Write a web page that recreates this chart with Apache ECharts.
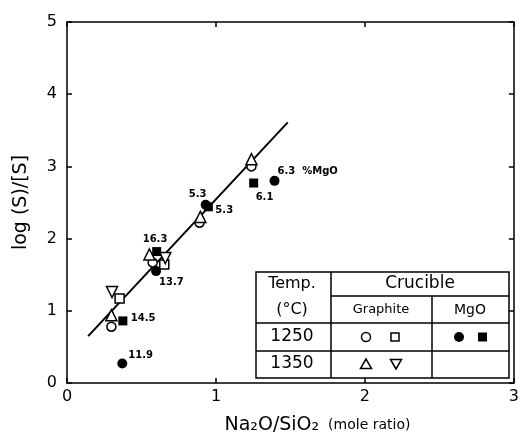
<!DOCTYPE html>
<html>
<head>
<meta charset="utf-8">
<script src="https://cdn.jsdelivr.net/npm/echarts@6/dist/echarts.min.js"></script>
<style>
  html, body { margin: 0; padding: 0; background: #fff; }
  #chart { width: 522px; height: 441px; }
</style>
</head>
<body>
<div id="chart"></div>
<script>
// graphite crucible, 1250 C
var graphiteCircle = [[0.298, 0.78], [0.575, 1.67], [0.89, 2.22], [1.238, 3.0]];
var graphiteSquare = [[0.353, 1.17], [0.653, 1.64]];
// graphite crucible, 1350 C
var graphiteTriangle = [[0.298, 0.94], [0.553, 1.78], [0.895, 2.30], [1.238, 3.10]];
var graphiteDownTri = [[0.302, 1.26], [0.66, 1.73]];
// MgO crucible, 1250 C (numbers = wt% MgO)
var mgoCircle = [[0.371, 0.27], [0.598, 1.55], [0.931, 2.47], [1.393, 2.80]];
var mgoCircleLabels = ['11.9', '13.7', '5.3', '6.3  %MgO'];
var mgoSquare = [[0.375, 0.86], [0.602, 1.82], [0.949, 2.44], [1.253, 2.77]];
var mgoSquareLabels = ['14.5', '16.3', '5.3', '6.1'];
// fitted line
var fitLine = [[0.142, 0.65], [1.482, 3.61]];
var xTicks = [0, 1, 2, 3];
var yTicks = [0, 1, 2, 3, 4, 5];

// label offsets (px, from point centre to label left edge)
var circleLabelOffsets = [[6, -8], [3, 11], [-17, -10], [3, -9]];
var squareLabelOffsets = [[8, -3], [-14, -12], [7, 4], [2, 14]];

var FONT = 'DejaVu Sans';
var myChart = echarts.init(document.getElementById('chart'));

function withLabels(points, labels, offsets) {
    return points.map(function (p, i) {
        return {
            value: p,
            label: {
                show: true,
                formatter: labels[i],
                position: 'inside',
                align: 'left',
                verticalAlign: 'middle',
                offset: offsets[i],
                color: '#000',
                opacity: 1,
                fontSize: 10,
                fontWeight: 'bold',
                fontFamily: FONT
            }
        };
    });
}

var openStyle = { color: '#fff', borderColor: '#000', borderWidth: 1.5, opacity: 1 };
var fillStyle = { color: '#000', borderColor: '#000', borderWidth: 0, opacity: 1 };

// table (legend) geometry
var tL = 256, tR = 509, tT = 272, tB = 378;
var c1 = 331, c2 = 432, r1 = 296, r2 = 323, r3 = 351;
function hline(x1, x2, y) {
    return { type: 'line', shape: { x1: x1, y1: y, x2: x2, y2: y }, style: { stroke: '#000', lineWidth: 1.5 } };
}
function vline(x, y1, y2) {
    return { type: 'line', shape: { x1: x, y1: y1, x2: x, y2: y2 }, style: { stroke: '#000', lineWidth: 1.5 } };
}
function txt(x, y, s, size) {
    return { type: 'text', x: x, y: y, style: { text: s, fill: '#000', font: size + 'px "' + FONT + '"', align: 'center', verticalAlign: 'middle' } };
}

var tableItems = [
    { type: 'rect', shape: { x: tL, y: tT, width: tR - tL, height: tB - tT }, style: { fill: '#fff', stroke: '#000', lineWidth: 1.5 } },
    vline(c1, tT, tB), vline(c2, r1, tB),
    hline(c1, tR, r1), hline(tL, tR, r2), hline(tL, tR, r3),
    txt(292, 284, 'Temp.', 16), txt(292, 310, '(°C)', 16),
    txt(420, 284, 'Crucible', 17),
    txt(381, 310, 'Graphite', 13), txt(470, 310, 'MgO', 14),
    txt(292, 337, '1250', 17), txt(292, 364, '1350', 17),
    { type: 'circle', shape: { cx: 366, cy: 337, r: 4.5 }, style: { fill: '#fff', stroke: '#000', lineWidth: 1.5 } },
    { type: 'rect', shape: { x: 391, y: 333, width: 8, height: 8 }, style: { fill: '#fff', stroke: '#000', lineWidth: 1.5 } },
    { type: 'circle', shape: { cx: 459, cy: 337, r: 5 }, style: { fill: '#000' } },
    { type: 'rect', shape: { x: 478, y: 332.5, width: 9, height: 9 }, style: { fill: '#000' } },
    { type: 'polygon', shape: { points: [[366, 359], [360.5, 368.5], [371.5, 368.5]] }, style: { fill: '#fff', stroke: '#000', lineWidth: 1.5 } },
    { type: 'polygon', shape: { points: [[396, 369], [390.5, 359.5], [401.5, 359.5]] }, style: { fill: '#fff', stroke: '#000', lineWidth: 1.5 } }
];

var option = {
    backgroundColor: '#fff',
    animation: false,
    grid: { left: 67, right: 5, top: 22, bottom: 58 },
    xAxis: [{
        type: 'value', min: 0, max: 3, interval: 1,
        name: '{a|Na₂O/SiO₂}{b|  (mole ratio)}',
        nameLocation: 'middle', nameGap: 33,
        nameTextStyle: {
            padding: [0, 0, 0, 54],
            rich: {
                a: { fontSize: 19, fontFamily: FONT, color: '#000' },
                b: { fontSize: 14, fontFamily: FONT, color: '#000' }
            }
        },
        axisLine: { onZero: false, lineStyle: { color: '#000', width: 1.5 } },
        axisTick: { inside: true, length: 5, lineStyle: { color: '#000', width: 1.5 } },
        axisLabel: { color: '#000', fontSize: 16, fontFamily: FONT, margin: 6,
            formatter: function (v) { return xTicks.indexOf(v) >= 0 ? String(v) : ''; } },
        splitLine: { show: false }
    }, {
        type: 'value', min: 0, max: 3, interval: 1, position: 'top',
        axisLine: { onZero: false, lineStyle: { color: '#000', width: 1.5 } },
        axisTick: { inside: true, length: 5, lineStyle: { color: '#000', width: 1.5 } },
        axisLabel: { show: false }, splitLine: { show: false }
    }],
    yAxis: [{
        type: 'value', min: 0, max: 5, interval: 1,
        name: 'log (S)/[S]',
        nameLocation: 'middle', nameGap: 36, nameRotate: 90,
        nameTextStyle: { fontSize: 19, fontFamily: FONT, color: '#000' },
        axisLine: { onZero: false, lineStyle: { color: '#000', width: 1.5 } },
        axisTick: { inside: true, length: 5, lineStyle: { color: '#000', width: 1.5 } },
        axisLabel: { color: '#000', fontSize: 16, fontFamily: FONT, margin: 10,
            formatter: function (v) { return yTicks.indexOf(v) >= 0 ? String(v) : ''; } },
        splitLine: { show: false }
    }, {
        type: 'value', min: 0, max: 5, interval: 1, position: 'right',
        axisLine: { onZero: false, lineStyle: { color: '#000', width: 1.5 } },
        axisTick: { inside: true, length: 5, lineStyle: { color: '#000', width: 1.5 } },
        axisLabel: { show: false }, splitLine: { show: false }
    }],
    series: [
        { name: 'fit', type: 'line', data: fitLine, symbol: 'none', z: 1,
          lineStyle: { color: '#000', width: 2 } },
        { name: 'Graphite 1250 circle', type: 'scatter', data: graphiteCircle, symbol: 'circle', symbolSize: 9, z: 3, itemStyle: openStyle },
        { name: 'Graphite 1250 square', type: 'scatter', data: graphiteSquare, symbol: 'rect', symbolSize: 9, z: 3, itemStyle: openStyle },
        { name: 'Graphite 1350 triangle', type: 'scatter', data: graphiteTriangle, symbol: 'triangle', symbolSize: 11, z: 3, itemStyle: openStyle },
        { name: 'Graphite 1350 down', type: 'scatter', data: graphiteDownTri, symbol: 'triangle', symbolRotate: 180, symbolSize: 11, z: 3, itemStyle: openStyle },
        { name: 'MgO 1250 circle', type: 'scatter', data: withLabels(mgoCircle, mgoCircleLabels, circleLabelOffsets), symbol: 'circle', symbolSize: 10, z: 4, itemStyle: fillStyle },
        { name: 'MgO 1250 square', type: 'scatter', data: withLabels(mgoSquare, mgoSquareLabels, squareLabelOffsets), symbol: 'rect', symbolSize: 9, z: 4, itemStyle: fillStyle }
    ],
    graphic: [{ type: 'group', z: 10, children: tableItems }]
};
myChart.setOption(option);
</script>
</body>
</html>
